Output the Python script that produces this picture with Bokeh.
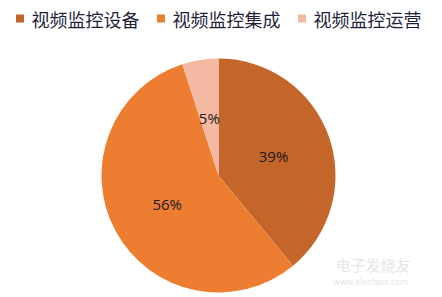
import math
from bokeh.plotting import figure
from bokeh.models import Range1d, ColumnDataSource
from bokeh.core.properties import value
from bokeh.embed import file_html
from bokeh.resources import INLINE

categories = ["视频监控设备", "视频监控集成", "视频监控运营"]
values = [39, 56, 5]
labels = ["39%", "56%", "5%"]
colors = ["#C4652A", "#ED7D31", "#F4B9A2"]

W, H = 442, 297
p = figure(width=W, height=H, x_range=Range1d(0, W), y_range=Range1d(0, H),
           output_backend="svg", toolbar_location=None, min_border=0)
p.axis.visible = False
p.grid.visible = False
p.outline_line_color = None
p.background_fill_color = "white"
p.border_fill_color = "white"

cx, cy, R = 218, H - 175, 117
total = sum(values)
starts, ends, lx, ly = [], [], [], []
cum = 0
for v in values:
    a0 = math.pi / 2 - 2 * math.pi * cum / total
    a1 = math.pi / 2 - 2 * math.pi * (cum + v) / total
    starts.append(a0)
    ends.append(a1)
    mid = (a0 + a1) / 2
    lx.append(cx + 0.5 * R * math.cos(mid))
    ly.append(cy + 0.5 * R * math.sin(mid))
    cum += v

src = ColumnDataSource(dict(start=starts, end=ends, color=colors, lx=lx, ly=ly, label=labels))
p.wedge(x=cx, y=cy, radius=R, start_angle="start", end_angle="end", direction="clock",
        fill_color="color", line_color=None, source=src)
p.text(x="lx", y="ly", text="label", source=src, text_align="center", text_baseline="middle",
       text_font=value("Open Sans"), text_font_size="15px", text_color="#1a1a1a")

# legend
lg_x = [16, 157, 298]
lsrc = ColumnDataSource(dict(x=[x + 3.5 for x in lg_x], tx=[x + 15 for x in lg_x],
                             y=[H - 18] * 3, name=categories, color=colors))
p.rect(x="x", y="y", width=8, height=8, fill_color="color", line_color=None, source=lsrc)
p.text(x="tx", y="y", text="name", source=lsrc, text_align="left", text_baseline="middle",
       text_font=value("Noto Sans CJK SC"), text_font_size="18px", text_color="#1f1f3a")

# watermark
p.text(x=[335], y=[H - 264], text=["电子发烧友"], text_font=value("Noto Sans CJK SC"),
       text_font_size="15px", text_color="#e6e6e6", text_baseline="middle")
p.text(x=[333], y=[H - 282], text=["www.elecfans.com"], text_font=value("DejaVu Sans"),
       text_font_size="8px", text_color="#e6e6e6", text_baseline="middle")

open("out.html", "w").write(file_html(p, INLINE))
